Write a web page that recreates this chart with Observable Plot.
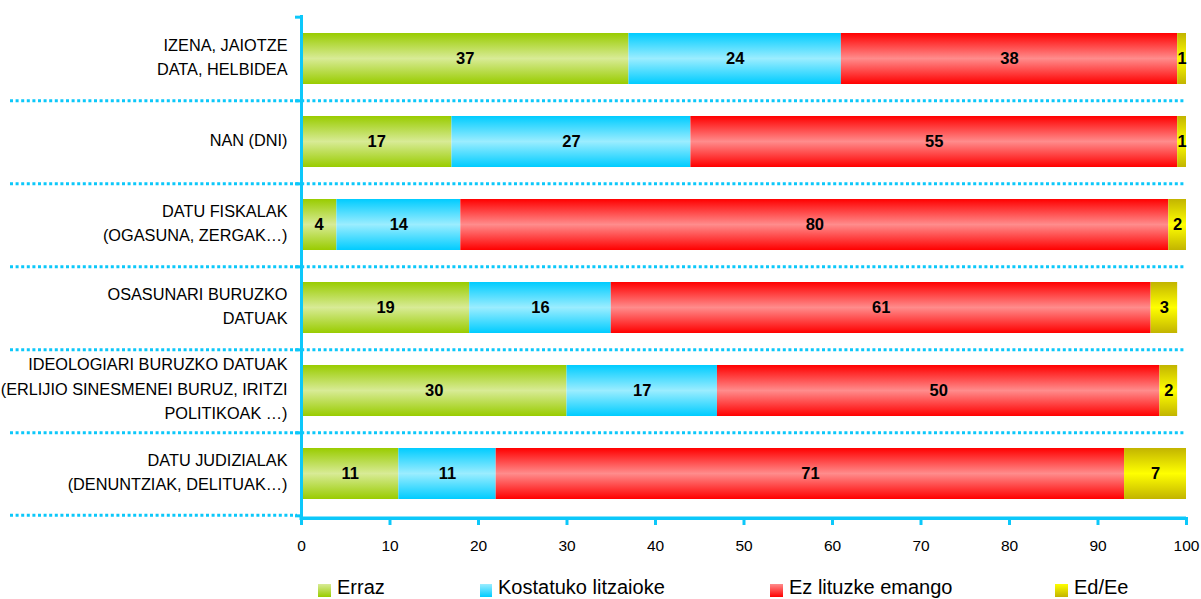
<!DOCTYPE html>
<html>
<head>
<meta charset="utf-8">
<script src="https://cdn.jsdelivr.net/npm/d3@7"></script>
<script src="https://cdn.jsdelivr.net/npm/@observablehq/plot@0.6"></script>
<style>
  html, body { margin: 0; padding: 0; background: #fff; }
  body { width: 1201px; height: 599px; overflow: hidden; font-family: "Liberation Sans", Arial, sans-serif; }
  #chart svg { display: block; }
  #legend { position: relative; height: 34px; width: 1201px; }
  #legend .sw { position: absolute; width: 12.5px; height: 12.5px; top: 19px; }
  #legend .lb { position: absolute; top: 11px; font-size: 20px; line-height: 23px; color: #000; white-space: nowrap; }
</style>
</head>
<body>
<div id="chart"></div>
<div id="legend"></div>
<script>
const categories = [
  "IZENA, JAIOTZE\nDATA, HELBIDEA",
  "NAN (DNI)",
  "DATU FISKALAK\n(OGASUNA, ZERGAK…)",
  "OSASUNARI BURUZKO\nDATUAK",
  "IDEOLOGIARI BURUZKO DATUAK\n(ERLIJIO SINESMENEI BURUZ, IRITZI\nPOLITIKOAK …)",
  "DATU JUDIZIALAK\n(DENUNTZIAK, DELITUAK…)"
];
const series = ["Erraz", "Kostatuko litzaioke", "Ez lituzke emango", "Ed/Ee"];
const erraz      = [37, 17, 4, 19, 30, 11];
const kostatuko  = [24, 27, 14, 16, 17, 11];
const ezLituzke  = [38, 55, 80, 61, 50, 71];
const edEe       = [1, 1, 2, 3, 2, 7];
const xTicks = [0, 10, 20, 30, 40, 50, 60, 70, 80, 90, 100];

const seriesValues = [erraz, kostatuko, ezLituzke, edEe];
const data = categories.flatMap((c, i) =>
  series.map((s, j) => ({category: c, series: s, value: seriesValues[j][i]}))
);

// styles
const gradients = [
  {id: "gGreen",  edge: "#99cc00", mid: "#d8eb96"},
  {id: "gCyan",   edge: "#00ccff", mid: "#9bedff"},
  {id: "gRed",    edge: "#ff0000", mid: "#ff8c8c"},
  {id: "gYellow", edge: "#c2b400", mid: "#ffff00"}
];
const cyan = "#0cc8fa";
const W = 1201, H = 565;
const mL = 301, mR = 15, mT = 15, mB = 48;
const frameH = H - mT - mB;
const step = frameH / categories.length;
const frameW = W - mL - mR;

const svg = Plot.plot({
  width: W,
  height: H,
  marginLeft: mL,
  marginRight: mR,
  marginTop: mT,
  marginBottom: mB,
  style: {fontFamily: "'Liberation Sans', Arial, sans-serif", background: "#fff", overflow: "visible"},
  x: {domain: [0, 100], axis: null},
  y: {domain: categories, paddingInner: 0.385, paddingOuter: 0.1925, axis: null},
  color: {domain: series, range: gradients.map(g => `url(#${g.id})`)},
  marks: [
    // dotted separators between categories
    Plot.ruleY(categories.slice(0, -1), {y: d => d, dy: step / 2, insetLeft: -(mL - 10), stroke: cyan, strokeWidth: 3, strokeDasharray: "3,2.6"}),
    Plot.ruleY(categories.slice(-1), {y: d => d, dy: step / 2 - 0.5, insetLeft: -(mL - 10), insetRight: frameW + 4, stroke: cyan, strokeWidth: 3, strokeDasharray: "3,2.6"}),
    // bars
    Plot.barX(data, Plot.stackX({y: "category", x: "value", z: "series", fill: "series"})),
    // value labels
    Plot.text(data, Plot.stackX({y: "category", x: "value", z: "series", text: "value", fontWeight: "bold", fontSize: 16.5, fill: "#000"})),
    // y axis line and band ticks
    Plot.ruleX([0], {stroke: cyan, strokeWidth: 3, insetBottom: -4}),
    Plot.ruleY(categories, {y: d => d, dy: step / 2, insetLeft: -6, insetRight: frameW, stroke: cyan, strokeWidth: 3}),
    Plot.ruleY(categories.slice(0, 1), {y: d => d, dy: -step / 2, insetLeft: -6, insetRight: frameW, stroke: cyan, strokeWidth: 3}),
    // x axis line, ticks and tick labels
    Plot.ruleX(xTicks, {x: d => d, insetTop: frameH, insetBottom: -8, stroke: cyan, strokeWidth: 3}),
    Plot.ruleY(categories.slice(-1), {y: d => d, dy: step / 2 + 2.5, insetLeft: -1.5, stroke: cyan, strokeWidth: 3.5}),
    Plot.text(xTicks, {x: d => d, text: d => String(d), frameAnchor: "bottom", lineAnchor: "middle", dy: 29, fontSize: 15.5, fill: "#000"}),
    // category labels
    Plot.text(categories, {y: d => d, text: d => d, frameAnchor: "left", textAnchor: "end", dx: -14, dy: -4, lineHeight: 1.5, fontSize: 16.3, fill: "#000", ariaLabel: "catlabels"})
  ]
});

// gradient definitions
const defs = d3.select(svg).insert("defs", ":first-child");
gradients.forEach(g => {
  const lg = defs.append("linearGradient").attr("id", g.id).attr("x1", 0).attr("y1", 0).attr("x2", 0).attr("y2", 1);
  lg.append("stop").attr("offset", "0%").attr("stop-color", g.edge);
  lg.append("stop").attr("offset", "50%").attr("stop-color", g.mid);
  lg.append("stop").attr("offset", "100%").attr("stop-color", g.edge);
});

document.getElementById("chart").appendChild(svg);

// center lines of each multi-line category label within its right-aligned block
svg.querySelectorAll('g[aria-label="catlabels"] text').forEach(t => {
  const spans = t.querySelectorAll("tspan");
  let w = 0;
  if (spans.length) spans.forEach(s => { w = Math.max(w, s.getComputedTextLength()); });
  else w = t.getComputedTextLength();
  t.setAttribute("text-anchor", "middle");
  const tr = t.getAttribute("transform") || "";
  t.setAttribute("transform", tr + ` translate(${-w / 2},0)`);
});

// legend
const legendPos = [{sw: 318, lb: 337}, {sw: 479.5, lb: 498}, {sw: 770, lb: 789}, {sw: 1055, lb: 1074}];
const legend = document.getElementById("legend");
series.forEach((s, i) => {
  const g = gradients[i];
  const sw = document.createElement("div");
  sw.className = "sw";
  sw.style.left = legendPos[i].sw + "px";
  sw.style.background = `linear-gradient(to bottom, ${g.mid} 0%, ${g.edge} 100%)`;
  legend.appendChild(sw);
  const lb = document.createElement("div");
  lb.className = "lb";
  lb.style.left = legendPos[i].lb + "px";
  lb.textContent = s;
  legend.appendChild(lb);
});
</script>
</body>
</html>
